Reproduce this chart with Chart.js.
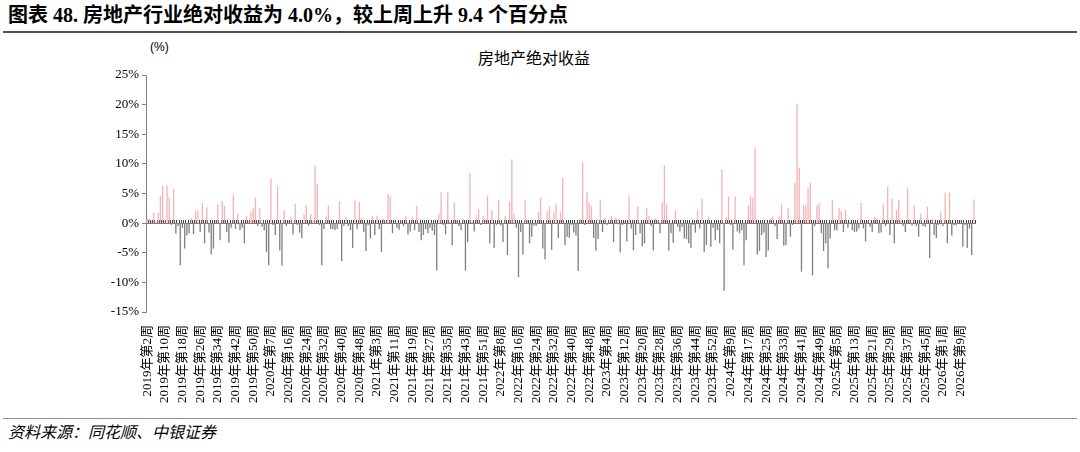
<!DOCTYPE html>
<html>
<head>
<meta charset="utf-8">
<script src="https://cdn.jsdelivr.net/npm/chart.js@4.4.1/dist/chart.umd.min.js"></script>
<style>
html,body{margin:0;padding:0;background:#fff;}
body{width:1080px;height:452px;position:relative;overflow:hidden;font-family:"Liberation Serif","Noto Sans CJK SC",serif;color:#000;}
#title{position:absolute;left:8px;top:3px;font-size:20px;font-weight:bold;white-space:nowrap;line-height:24px;}
#hr1{position:absolute;left:3px;right:3px;top:31px;border-top:2px solid #505050;}
#hr2{position:absolute;left:3px;right:3px;top:418px;border-top:1px solid #909090;}
#src{position:absolute;left:8px;top:423px;font-size:16px;font-style:italic;line-height:20px;font-family:"Liberation Serif","Noto Sans CJK SC",serif;}
#unit{position:absolute;left:150px;top:39px;font-size:12px;line-height:16px;font-family:"Liberation Sans",sans-serif;}
#ctitle{position:absolute;left:478px;top:47px;font-size:16px;line-height:20px;font-family:"Noto Sans CJK SC",serif;}
#wrap{position:absolute;left:0;top:36px;width:1080px;height:376px;}
</style>
</head>
<body>
<div id="title">图表 48. 房地产行业绝对收益为 4.0%，较上周上升 9.4 个百分点</div>
<div id="hr1"></div>
<div id="unit">(%)</div>
<div id="ctitle">房地产绝对收益</div>
<div id="wrap"><canvas id="c" width="1080" height="376"></canvas></div>
<div id="hr2"></div>
<div id="src">资料来源：同花顺、中银证券</div>
<script>
// Weekly absolute return of the real-estate sector (%), 2019 W2 -> 2026
const absReturn = [
0.8,0.8,0.3,1.8,0.3,1.8,4.6,6.3,0.5,6.4,
4.3,-0.3,5.7,-1.8,-0.5,-7.1,-0.8,-4.3,-2.1,-1.7,
0.8,-1.9,2.1,2.1,-1.5,3.4,-3.4,2.7,-1.6,-5.3,
-4.3,0.5,3.2,-2.9,3.7,2.9,-1.5,-3.3,-0.8,4.7,
-1.0,1.6,-1.2,-0.8,-3.4,1.2,0.4,1.9,2.5,4.3,
-0.5,2.5,-0.6,-1.2,-4.9,-7.1,7.5,-0.3,-2.0,6.3,
-4.6,-7.2,2.2,-0.5,0.5,1.0,-1.9,3.3,-0.3,-1.6,
-2.5,1.5,3.0,-0.4,1.5,0.5,9.7,6.6,-0.3,-7.1,
-1.0,1.1,2.9,
-1.0,-1.0,-1.2,-1.0,3.7,-6.4,-0.5,1.0,-0.5,-1.2,
-4.2,3.8,-1.0,3.6,0.9,-1.5,-4.7,-0.3,-2.6,1.2,
-2.0,1.3,-1.0,-4.9,0.8,0.3,4.9,4.5,-1.7,0.3,
-0.8,-1.1,0.3,-0.5,1.2,-1.9,-1.4,1.1,-1.2,2.9,
-1.5,-2.9,-2.0,
-1.0,-1.7,-0.8,-1.3,-2.0,-8.0,1.6,5.2,-0.3,-1.9,
5.2,0.3,-3.7,3.5,0.5,-0.5,-1.2,0.8,-8.0,-3.2,
8.5,0.3,-1.4,1.4,2.4,-0.3,1.2,0.6,4.6,-3.4,
2.2,-4.2,-0.3,4.0,-0.4,-3.2,1.2,-5.4,3.7,10.8,
1.6,-0.8,-9.1,
-1.5,-5.3,3.9,0.5,-3.4,-2.3,-0.4,-0.5,1.9,4.3,
-4.3,-6.1,2.0,2.8,-4.5,1.8,3.3,-2.5,1.9,7.6,
-3.7,-2.3,-2.5,-0.3,-1.6,-2.1,-8.1,0.6,10.2,-0.3,
5.2,3.5,2.9,-2.5,-4.6,-2.7,3.9,-1.5,0.9,-0.3,
0.3,1.2,-3.2,
0.9,0.7,-4.9,-0.3,0.3,-3.1,4.6,-0.9,-4.6,-2.0,
2.8,-1.7,-3.9,-3.4,2.6,1.2,-0.5,-4.6,0.8,0.5,
-1.7,3.5,9.8,3.2,-4.6,-1.7,-3.3,2.1,-0.6,-1.4,
-0.6,-2.6,-2.7,-3.4,-4.2,-0.3,-1.6,2.2,-0.9,4.1,
-4.9,-3.7,1.1,
-4.0,-0.8,-2.9,-1.2,-3.4,9.0,-11.4,1.0,4.5,-0.3,
-4.5,4.5,-1.4,-1.7,-1.2,-7.1,-2.9,3.0,4.5,4.3,
12.7,-5.3,-4.7,-2.0,-1.6,-5.7,-4.6,0.8,1.1,-0.5,
-2.7,1.2,3.3,-3.8,-3.7,2.5,-2.3,-0.3,6.8,20.1,
9.3,-8.2,3.0,
3.0,5.9,6.8,-8.8,-0.5,3.0,3.3,-1.7,-4.7,-3.4,
-7.6,-2.6,3.9,-1.2,-1.2,2.6,2.0,-1.5,2.2,-0.8,
0.3,-1.2,-1.5,-1.4,-0.9,3.4,-0.9,-3.1,0.4,-0.6,
-1.5,1.0,0.9,-1.7,-1.6,3.2,-0.5,6.2,-2.0,4.1,
-3.4,2.2,3.9,
0.5,-0.5,-1.5,6.0,0.7,-0.4,3.0,-0.5,-2.3,1.6,
-0.5,-0.6,2.8,-5.9,0.7,-2.0,-2.5,-0.3,1.9,-0.5,
5.1,-3.4,5.2,-2.1,-0.3,-0.4,0.3,0.5,-4.0,-0.3,
-4.2,-0.9,-5.4,4.0
];

// Axis labels shown on the chart (one every 8 weeks)
const tickLabels = [
"2019年第2周","2019年第10周","2019年第18周","2019年第26周","2019年第34周","2019年第42周","2019年第50周",
"2020年第7周","2020年第16周","2020年第24周","2020年第32周","2020年第40周","2020年第48周",
"2021年第3周","2021年第11周","2021年第19周","2021年第27周","2021年第35周","2021年第43周","2021年第51周",
"2022年第8周","2022年第16周","2022年第24周","2022年第32周","2022年第40周","2022年第48周",
"2023年第4周","2023年第12周","2023年第20周","2023年第28周","2023年第36周","2023年第44周","2023年第52周",
"2024年第9周","2024年第17周","2024年第25周","2024年第33周","2024年第41周","2024年第49周",
"2025年第5周","2025年第13周","2025年第21周","2025年第29周","2025年第37周","2025年第45周",
"2026年第1周","2026年第9周"
];
const labelStep = 8;
const yTicks = [-15,-10,-5,0,5,10,15,20,25];

const categories = absReturn.map((_, i) => (i % labelStep === 0 && tickLabels[i / labelStep]) ? tickLabels[i / labelStep] : '');

const PINK = '#F4B4B7';
const GRAY = '#808080';
const serif = '"Liberation Serif", "Noto Sans CJK SC", serif';

new Chart(document.getElementById('c'), {
  type: 'bar',
  data: {
    labels: categories,
    datasets: [{
      data: absReturn,
      backgroundColor: ctx => (ctx.raw >= 0 ? PINK : GRAY),
      borderWidth: 0,
      barPercentage: 0.6,
      categoryPercentage: 1.0,
      xAxisID: 'x',
      yAxisID: 'y'
    }]
  },
  options: {
    responsive: false,
    animation: false,
    events: [],
    layout: { padding: { left: 96, right: 105, top: 39, bottom: 0 } },
    plugins: { legend: { display: false }, tooltip: { enabled: false }, title: { display: false } },
    scales: {
      x: {
        type: 'category',
        position: 'bottom',
        offset: true,
        grid: { display: false, offset: true },
        border: { display: false },
        ticks: {
          autoSkip: false,
          maxRotation: 90,
          minRotation: 90,
          padding: 5,
          color: '#000',
          font: { family: serif, size: 13 }
        },
        afterFit: s => { s.height = 100; }
      },
      x2: {
        type: 'category',
        axis: 'x',
        position: { y: 0 },
        offset: true,
        grid: { display: true, drawOnChartArea: false, drawTicks: true, tickLength: -4, offset: true, color: '#404040', lineWidth: 1 },
        border: { display: true, color: '#808080', width: 1 },
        ticks: { display: false }
      },
      y: {
        type: 'linear',
        position: 'left',
        min: yTicks[0],
        max: yTicks[yTicks.length - 1],
        afterBuildTicks: s => { s.ticks = yTicks.map(v => ({ value: v })); },
        grid: { display: true, drawOnChartArea: false, drawTicks: true, tickLength: 4, color: '#808080' },
        border: { display: true, color: '#808080', width: 1 },
        ticks: {
          padding: 3,
          color: '#000',
          font: { family: serif, size: 13 },
          callback: v => v + '%'
        },
        afterFit: s => { s.width = 50; }
      }
    }
  }
});
</script>
</body>
</html>
